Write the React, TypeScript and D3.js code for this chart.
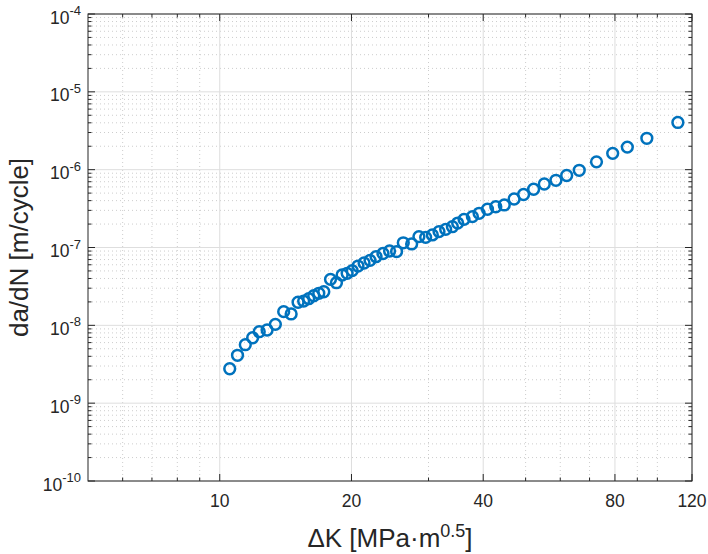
import React from "react";
import * as d3 from "d3";

const deltaK = [
  10.54, 10.98, 11.44, 11.89, 12.31, 12.83, 13.4, 14.0, 14.56, 15.1, 15.55, 15.97, 16.4, 16.84,
  17.29, 17.91, 18.48, 19.04, 19.55, 20.08, 20.7, 21.37, 22.05, 22.76, 23.61, 24.44, 25.36, 26.27,
  27.45, 28.52, 29.55, 30.61, 31.7, 32.83, 34.01, 34.97, 36.16, 37.79, 39.14, 40.91, 42.74, 44.69,
  47.06, 49.47, 52.15, 55.16, 58.65, 62.06, 66.3, 72.6, 79.06, 85.39, 94.62, 111.4,
];
const dadN = [
  2.77e-9, 4.12e-9, 5.64e-9, 6.93e-9, 8.28e-9, 8.71e-9, 1.03e-8, 1.5e-8, 1.4e-8, 1.98e-8, 2.05e-8,
  2.2e-8, 2.4e-8, 2.58e-8, 2.7e-8, 3.9e-8, 3.53e-8, 4.43e-8, 4.66e-8, 5.04e-8, 5.78e-8, 6.32e-8,
  6.84e-8, 7.62e-8, 8.37e-8, 9.02e-8, 8.87e-8, 1.15e-7, 1.11e-7, 1.38e-7, 1.35e-7, 1.45e-7, 1.6e-7,
  1.71e-7, 1.85e-7, 2.06e-7, 2.3e-7, 2.49e-7, 2.75e-7, 3.1e-7, 3.34e-7, 3.52e-7, 4.2e-7, 4.8e-7,
  5.6e-7, 6.54e-7, 7.3e-7, 8.41e-7, 9.82e-7, 1.26e-6, 1.62e-6, 1.95e-6, 2.53e-6, 4.04e-6,
];
const xTickValues = [10, 20, 40, 80, 120];
const xTickLabels = ["10", "20", "40", "80", "120"];
const xMinorValues = [6, 7, 8, 9, 30, 50, 60, 70, 90, 100];
const yDecadeExponents = [-10, -9, -8, -7, -6, -5, -4];

const FONT = "'Liberation Sans', Arial, Helvetica, sans-serif";
const AXIS = "#262626";

export default function App() {
  const W = 708;
  const H = 554;
  const L = 88, R = 692, T = 14, B = 481;
  const x = d3.scaleLog().domain([5, 120]).range([L, R]);
  const y = d3.scaleLog().domain([1e-10, 1e-4]).range([B, T]);

  const yMinor: number[] = [];
  for (let e = -10; e < -4; e++) {
    for (let k = 2; k <= 9; k++) yMinor.push(k * Math.pow(10, e));
  }
  const majTick = 7;
  const minTick = 3.5;

  return (
    <div style={{ position: "absolute", left: 0, top: 0 }}>
      <svg width={W} height={H} style={{ display: "block", background: "#fff" }}>
        <rect x={0} y={0} width={W} height={H} fill="#fff" />
        {/* minor grid */}
        <g stroke="#cdcdcd" strokeWidth={1} strokeDasharray="1,3">
          {xMinorValues.map((v) => (
            <line key={"xm" + v} x1={x(v)} x2={x(v)} y1={T} y2={B} />
          ))}
          {yMinor.map((v, i) => (
            <line key={"ym" + i} x1={L} x2={R} y1={y(v)} y2={y(v)} />
          ))}
        </g>
        {/* major grid */}
        <g stroke="#dedede" strokeWidth={1}>
          {xTickValues.map((v) => (
            <line key={"xg" + v} x1={x(v)} x2={x(v)} y1={T} y2={B} />
          ))}
          {yDecadeExponents.map((e) => (
            <line key={"yg" + e} x1={L} x2={R} y1={y(Math.pow(10, e))} y2={y(Math.pow(10, e))} />
          ))}
        </g>
        {/* data */}
        <g fill="none" stroke="#0072BD" strokeWidth={2.5}>
          {deltaK.map((k, i) => (
            <circle key={"p" + i} cx={x(k)} cy={y(dadN[i])} r={5.4} />
          ))}
        </g>
        {/* ticks */}
        <g stroke={AXIS} strokeWidth={1}>
          {xTickValues.map((v) => (
            <g key={"xt" + v}>
              <line x1={x(v)} x2={x(v)} y1={B} y2={B - majTick} />
              <line x1={x(v)} x2={x(v)} y1={T} y2={T + majTick} />
            </g>
          ))}
          {xMinorValues.map((v) => (
            <g key={"xmt" + v}>
              <line x1={x(v)} x2={x(v)} y1={B} y2={B - minTick} />
              <line x1={x(v)} x2={x(v)} y1={T} y2={T + minTick} />
            </g>
          ))}
          {yDecadeExponents.map((e) => {
            const yy = y(Math.pow(10, e));
            return (
              <g key={"yt" + e}>
                <line x1={L} x2={L + majTick} y1={yy} y2={yy} />
                <line x1={R} x2={R - majTick} y1={yy} y2={yy} />
              </g>
            );
          })}
          {yMinor.map((v, i) => (
            <g key={"ymt" + i}>
              <line x1={L} x2={L + minTick} y1={y(v)} y2={y(v)} />
              <line x1={R} x2={R - minTick} y1={y(v)} y2={y(v)} />
            </g>
          ))}
        </g>
        {/* box */}
        <rect x={L} y={T} width={R - L} height={B - T} fill="none" stroke={AXIS} strokeWidth={1} />
        {/* x tick labels */}
        <g fontFamily={FONT} fontSize={17.5} fill={AXIS} textAnchor="middle">
          {xTickValues.map((v, i) => (
            <text key={"xl" + v} x={x(v)} y={B + 26}>
              {xTickLabels[i]}
            </text>
          ))}
        </g>
        {/* y tick labels */}
        <g fontFamily={FONT} fill={AXIS}>
          {yDecadeExponents.map((e) => {
            const yy = y(Math.pow(10, e));
            return (
              <text key={"yl" + e} x={81} y={yy + 9.5} textAnchor="end" fontSize={17.5}>
                <tspan>10</tspan>
                <tspan dy={-8.5} fontSize={13}>{String(e)}</tspan>
              </text>
            );
          })}
        </g>
        {/* axis labels */}
        <text x={(L + R) / 2} y={547} textAnchor="middle" fontFamily={FONT} fontSize={26} fill={AXIS}>
          ΔK [MPa·m<tspan dy={-10} fontSize={18}>0.5</tspan>
          <tspan dy={10}>]</tspan>
        </text>
        <text
          transform={`translate(28,${(T + B) / 2}) rotate(-90)`}
          textAnchor="middle"
          fontFamily={FONT}
          fontSize={26}
          fill={AXIS}
        >
          da/dN [m/cycle]
        </text>
      </svg>
    </div>
  );
}
